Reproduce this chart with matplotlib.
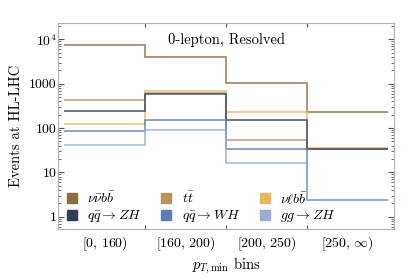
import numpy as np
import matplotlib
matplotlib.use("Agg")
import matplotlib.pyplot as plt
from matplotlib.lines import Line2D
from matplotlib.ticker import LogLocator, FixedLocator, NullFormatter

plt.rcParams['font.family'] = 'serif'
plt.rcParams['font.serif'] = ['cmr10', 'DejaVu Serif']
plt.rcParams['mathtext.fontset'] = 'cm'
plt.rcParams['axes.formatter.use_mathtext'] = True

# Data: events per pT,min bin
bins = [r'$[0,\, 160)$', r'$[160,\, 200)$', r'$[200,\, 250)$', r'$[250,\, \infty)$']
edges = np.arange(len(bins) + 1)

nunubb = [7430, 4050, 1015, 229]
ttbar = [427, 623, 53, 34]
nulbb = [122, 680, 225, 35]
qq_zh = [240, 573, 151, 33]
qq_wh = [85, 151, 33, 2.45]
gg_zh = [41, 90, 16, 2.35]

labels = [r'$\nu\bar{\nu}b\bar{b}$', r'$t\bar{t}$', r'$\nu\ell b\bar{b}$',
          r'$q\bar{q}\to ZH$', r'$q\bar{q}\to WH$', r'$gg\to ZH$']
colors = ['#8c6d3f', '#b8935a', '#e9b762', '#2f3e5c', '#5b7db5', '#94aed8']
series = [nunubb, ttbar, nulbb, qq_zh, qq_wh, gg_zh]

fig = plt.figure(figsize=(4.15, 2.79), dpi=100)
ax = fig.add_axes([0.1398, 0.1792, 0.8096, 0.7394])

for vals, c in zip(series, colors):
    ax.stairs(vals, edges, baseline=None, color=c, lw=1.1, alpha=0.9)

ax.set_yscale('log')
ax.set_ylim(0.53, 23700)
ax.set_xlim(-0.074, 4.074)

ax.yaxis.set_major_locator(FixedLocator([1, 10, 100, 1000, 1e4]))
ax.set_yticklabels(['1', '10', '100', '1000', r'$10^4$'])
ax.yaxis.set_minor_locator(LogLocator(base=10, subs=np.arange(2, 10)))
ax.yaxis.set_minor_formatter(NullFormatter())

ax.xaxis.set_major_locator(FixedLocator([1, 2, 3]))
ax.xaxis.set_major_formatter(NullFormatter())
ax.xaxis.set_minor_locator(FixedLocator([0.5, 1.5, 2.5, 3.5]))
ax.set_xticklabels(bins, minor=True)

ax.tick_params(axis='both', which='both', direction='in', color='#555555',
               top=True, right=True, labelsize=10)
ax.tick_params(axis='x', which='minor', length=0, pad=5)
ax.tick_params(axis='x', which='major', length=3)
ax.tick_params(axis='y', which='major', length=4, pad=1)
ax.tick_params(axis='y', which='minor', length=2)

for s in ax.spines.values():
    s.set_color('#b0b0b0')
    s.set_linewidth(0.8)

ax.set_ylabel('Events at HL-LHC', fontsize=10.5, labelpad=4)
ax.set_xlabel(r'$p_{T,\mathrm{min}}$ bins', fontsize=10.5, labelpad=2)
ax.text(0.5, 0.95, '0-lepton, Resolved', transform=ax.transAxes,
        ha='center', va='top', fontsize=10.5)

handles = [Line2D([], [], ls='none', marker='s', markersize=7.5,
                  markerfacecolor=c, markeredgecolor=c) for c in colors]
order = [0, 3, 1, 4, 2, 5]
ax.legend([handles[i] for i in order], [labels[i] for i in order],
          ncol=3, loc='lower left', bbox_to_anchor=(-0.008, -0.025), frameon=False,
          fontsize=10, handlelength=1.0, handletextpad=0.6, columnspacing=1.25,
          labelspacing=0.15, borderaxespad=0.3)

fig.savefig('out.png', dpi=100)
